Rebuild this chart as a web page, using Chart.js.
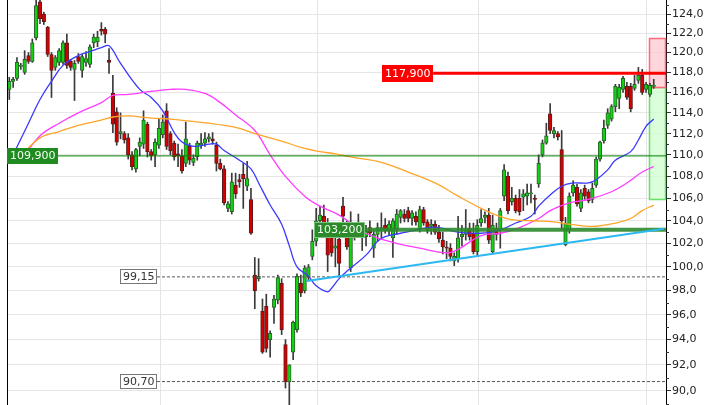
<!DOCTYPE html>
<html>
<head>
<meta charset="utf-8">
<script src="https://cdn.jsdelivr.net/npm/chart.js@4.4.0/dist/chart.umd.min.js"></script>
<style>
  html, body { margin: 0; padding: 0; background: #fff; }
  #wrap { width: 720px; height: 405px; position: relative; }
</style>
</head>
<body>
<div id="wrap"><canvas id="priceChart"></canvas></div>
<script>
// Daily candles, oldest first
const opens = [
  116.3, 117.1, 117.4, 118.6, 118.0, 119.7, 119.1, 121.5, 125.3, 124.0, 122.6, 119.8, 118.5, 119.0, 119.0, 121.0, 119.1, 118.3, 119.6, 118.2, 119.0, 118.8, 121.0, 121.1, 122.4, 122.4, 119.2,
  115.9, 114.1, 112.0, 112.0, 111.6, 110.0, 108.7, 110.8, 111.0, 112.9, 110.3, 110.0, 110.9, 111.9, 114.2, 112.0, 111.1, 110.1, 109.9, 109.2, 110.8, 109.3, 109.8, 110.9, 111.1, 111.5, 111.5, 110.9, 109.2, 108.7,
  105.1, 104.8, 107.2, 107.7, 108.2, 107.1, 105.9, 99.3, 99.0, 96.3, 96.7, 94.0, 96.6, 97.2, 98.6, 93.6, 90.7, 93.0, 94.8, 98.6, 98.0, 99.1, 100.9,
  102.2, 104.0, 104.4, 102.8, 102.8, 101.6, 102.4, 105.3, 103.2, 99.9, 102.9, 103.4, 102.9, 102.6, 103.4, 101.6, 102.8, 103.2, 103.6, 103.1,
  102.5, 103.3, 104.3, 104.6, 104.9, 104.2, 104.4, 103.3, 105.0, 103.9, 103.5, 103.7, 103.0, 102.3, 101.7, 101.6, 100.5, 100.7, 102.6, 102.8,
  103.3, 102.9, 101.3, 103.8, 104.3, 104.5, 101.3, 103.3, 103.2, 106.2,
  108.0, 105.7, 106.0, 106.0, 106.1, 106.2, 106.4, 106.0, 107.3, 110.0, 111.1, 113.9, 112.0, 112.0,
  110.5, 101.9, 103.2, 106.5, 107.0, 105.1, 106.9, 106.6, 105.9, 107.2, 109.6, 111.3, 112.8, 113.4, 114.6, 115.4, 116.3, 116.6, 116.6, 116.4, 117.2, 117.7, 116.3, 115.8, 116.6
];
const highs = [
  117.5, 117.5, 119.5, 118.9, 120.2, 120.0, 121.4, 125.5, 125.8, 124.2, 122.7, 120.0, 119.7, 120.4, 121.2, 121.9, 119.3, 119.2, 119.9, 119.8, 120.1, 120.8, 121.9, 122.2, 123.1, 122.6, 120.4,
  117.7, 114.5, 114.0, 112.2, 112.0, 110.3, 110.6, 111.6, 114.2, 113.1, 110.5, 111.5, 113.4, 113.8, 114.9, 112.2, 111.3, 111.0, 110.5, 113.1, 111.1, 110.0, 111.3, 112.0, 112.1, 112.0, 112.1, 111.2, 109.6, 109.0,
  105.7, 108.3, 108.3, 108.2, 109.2, 109.4, 106.9, 100.8, 100.7, 97.3, 97.7, 94.7, 97.6, 99.3, 99.0, 94.0, 92.0, 95.5, 99.4, 99.3, 100.1, 100.2, 103.2,
  105.1, 105.3, 105.4, 104.2, 103.3, 102.8, 103.0, 106.1, 104.0, 104.8, 103.7, 104.6, 103.5, 103.6, 104.0, 103.2, 103.8, 104.7, 104.2, 104.0,
  104.2, 105.0, 105.0, 105.0, 105.2, 104.9, 104.8, 105.3, 105.2, 104.1, 104.1, 104.0, 103.6, 103.0, 102.2, 102.0, 101.2, 104.4, 103.6, 105.0,
  103.8, 103.8, 104.1, 105.0, 104.8, 105.1, 104.5, 103.8, 105.1, 109.1,
  108.4, 107.0, 106.3, 106.8, 106.8, 107.3, 107.3, 106.3, 110.0, 111.4, 113.0, 114.9, 112.6, 112.2,
  112.3, 104.3, 106.5, 107.6, 107.3, 106.8, 107.2, 106.8, 107.4, 109.8, 111.3, 113.3, 114.4, 114.8, 116.8, 116.8, 117.6, 117.0, 116.9, 117.7, 118.5, 118.3, 117.0, 116.9, 117.3
];
const lows = [
  115.3, 116.5, 117.2, 118.3, 117.8, 118.9, 119.0, 121.3, 123.0, 122.9, 119.6, 115.5, 118.2, 118.7, 118.8, 118.4, 118.2, 115.2, 118.9, 117.5, 118.6, 118.5, 120.5, 120.6, 121.8, 121.0, 117.9,
  112.1, 110.9, 111.5, 111.1, 109.6, 108.6, 108.4, 109.9, 110.6, 109.8, 109.5, 108.9, 110.6, 111.6, 110.5, 110.0, 109.5, 108.9, 108.3, 108.9, 109.1, 109.0, 109.5, 110.6, 110.8, 111.2, 111.0, 108.5, 108.6, 105.4,
  104.8, 104.6, 106.0, 107.0, 105.1, 106.7, 102.8, 96.5, 98.8, 92.9, 93.0, 92.6, 95.3, 96.9, 94.4, 90.2, 88.5, 92.4, 94.6, 97.5, 97.8, 98.8, 100.6,
  101.8, 103.5, 103.2, 99.6, 100.9, 100.0, 99.2, 103.3, 101.5, 99.6, 102.3, 102.6, 101.4, 101.8, 102.6, 100.8, 102.2, 102.5, 102.9, 102.7,
  100.8, 102.8, 103.8, 103.9, 103.9, 103.6, 103.6, 103.0, 103.6, 102.9, 102.8, 102.8, 102.1, 101.1, 100.7, 100.5, 100.1, 100.4, 101.8, 102.3,
  102.3, 101.1, 101.0, 103.5, 103.8, 102.0, 101.2, 102.3, 101.6, 105.8,
  104.6, 105.4, 104.7, 104.5, 104.9, 105.4, 105.6, 104.6, 107.0, 109.8, 111.0, 112.0, 111.6, 111.4,
  103.2, 101.8, 102.9, 106.2, 105.3, 104.8, 105.9, 105.6, 105.6, 107.0, 109.4, 111.1, 112.5, 113.2, 114.1, 114.4, 116.0, 115.3, 114.1, 116.2, 116.9, 115.8, 116.0, 115.6, 116.4
];
const closes = [
  117.1, 117.3, 119.0, 118.7, 119.3, 119.1, 121.0, 124.9, 123.5, 123.2, 119.8, 118.2, 119.5, 120.2, 121.0, 118.7, 118.5, 118.9, 119.1, 119.6, 119.4, 120.6, 121.6, 121.6, 122.2, 121.9, 119.0,
  112.9, 111.2, 112.2, 111.4, 110.0, 108.9, 110.5, 111.2, 113.3, 110.3, 109.9, 111.2, 112.5, 113.1, 110.8, 110.4, 109.8, 109.9, 108.5, 111.5, 109.5, 109.7, 111.1, 111.1, 111.5, 111.7, 111.3, 109.2, 108.7, 105.6,
  105.5, 107.5, 106.4, 107.5, 107.8, 107.8, 102.9, 98.0, 99.2, 93.0, 93.3, 94.5, 97.3, 99.1, 94.8, 90.7, 92.0, 95.4, 99.2, 97.8, 99.9, 100.0, 102.2,
  104.0, 104.5, 103.6, 101.0, 101.2, 101.8, 100.3, 104.4, 101.7, 103.0, 103.3, 102.9, 102.6, 103.1, 102.9, 102.8, 103.4, 103.4, 103.1, 103.7,
  104.0, 104.6, 104.9, 104.2, 104.2, 104.7, 103.9, 105.0, 103.8, 103.1, 103.7, 103.0, 102.4, 101.7, 101.6, 100.9, 100.9, 102.5, 102.8, 103.2,
  102.6, 101.3, 103.6, 104.2, 104.5, 102.3, 103.6, 102.8, 104.9, 108.6,
  104.9, 106.0, 104.9, 104.8, 106.4, 106.5, 106.5, 105.9, 109.2, 111.1, 111.8, 112.3, 112.3, 111.7,
  104.0, 103.8, 106.2, 107.2, 105.5, 106.5, 106.2, 105.8, 106.9, 109.6, 111.2, 112.5, 114.0, 114.6, 116.6, 116.5, 117.4, 115.5, 114.4, 116.8, 117.7, 116.0, 116.8, 116.7, 116.7
];

// Moving averages: [session, value]
const maFast = [
  [1,110.0],[5,113.0],[8,115.3],[11,117.1],[14,118.7],[18,119.7],[21,120.1],[24,120.5],[26,120.7],[29,118.9],
  [34,116.3],[37,115.5],[40,114.2],[43,112.1],[45,111.2],[48,110.8],[52,111.0],[54,111.0],[56,110.4],[60,109.5],
  [63,108.7],[65,107.4],[68,105.4],[71,103.7],[73,101.8],[75,100.0],[78,99.2],[80,98.4],[83,97.9],[84,98.2],
  [86,99.0],[89,99.9],[93,101.0],[96,102.2],[98,102.6],[102,102.9],[105,103.1],[109,103.4],[112,103.4],[117,103.0],
  [123,102.9],[128,103.2],[132,103.8],[136,104.4],[138,105.3],[141,106.3],[144,107.1],[147,107.4],[151,107.4],[153,107.7],
  [156,108.6],[158,109.5],[162,110.3],[164,111.4],[166,112.7],[168,113.4]
];
const maMid = [
  [4,110.0],[8,111.8],[13,113.0],[18,114.0],[24,115.0],[27,115.7],[31,115.8],[37,116.1],[42,116.3],[46,116.3],
  [51,115.9],[55,115.0],[59,113.8],[64,112.3],[68,110.0],[72,108.0],[77,106.2],[81,105.3],[86,104.5],[93,102.9],
  [100,102.1],[107,101.6],[114,101.2],[117,101.5],[123,102.7],[128,102.9],[133,103.4],[138,104.2],[141,104.9],[146,105.6],
  [151,105.9],[157,106.6],[161,107.4],[165,108.4],[168,108.9]
];
const maSlow = [
  [3,109.9],[8,111.6],[13,112.2],[18,112.8],[24,113.3],[27,113.6],[31,113.7],[37,113.5],[42,113.4],[47,113.2],
  [52,113.0],[56,112.8],[60,112.5],[65,111.9],[71,111.3],[76,110.7],[81,110.3],[85,110.1],[89,109.8],[97,109.3],
  [104,108.4],[111,107.4],[117,106.2],[123,105.1],[127,104.5],[131,104.1],[137,104.0],[142,103.9],[146,103.7],[152,103.5],
  [158,103.8],[162,104.2],[165,104.9],[168,105.4]
];

// Drawn levels: [first session, price]
const pivot = [-0.6, 109.9];
const resistance = [110.5, 117.9];
const support = [92.8, 103.2];
const lowMarks = [[38.5, 99.15], [38.5, 90.70]];
const trendStart = [77.5, 98.8];
const trendEnd = [170.7, 103.3];
const targetSpan = [166.8, 171.1];
const targetUp = [116.5, 121.5];
const targetDown = [105.9, 116.5];

const majorTicks = [90, 92, 94, 96, 98, 100, 102, 104, 106, 108, 110, 112, 114, 116, 118, 120, 122, 124];
const minorTicks = [89, 91, 93, 95, 97, 99, 101, 103, 105, 107, 109, 111, 113, 115, 117, 119, 121, 123, 125];
const monthLines = [39.3, 80.2, 122.2, 166.0];

const xMin = -0.6, xMax = 171.2;

const rising = i => closes[i] >= opens[i];
const bodies = opens.map((o, i) => ({ x: i, y: [o, closes[i]] }));
const wicks = lows.map((l, i) => ({ x: i, y: [l, highs[i]] }));
const pts = arr => arr.map(p => ({ x: p[0], y: p[1] }));
const level = (p, width, color, dash) => ({
  type: 'line',
  data: [{ x: p[0], y: p[1] }, { x: xMax, y: p[1] }],
  borderColor: color, borderWidth: width, borderDash: dash || [],
  pointRadius: 0, fill: false, order: 2
});
const maLine = (arr, color) => ({
  type: 'line', data: pts(arr), borderColor: color, borderWidth: 1.3,
  pointRadius: 0, tension: 0.4, fill: false, order: 3
});

const comma = (v, d) => v.toFixed(d).replace('.', ',');

const overlay = {
  id: 'overlay',
  beforeDatasetsDraw(chart) {
    const { ctx, chartArea: a, scales: { x, y } } = chart;
    ctx.save();
    ctx.lineWidth = 1;
    ctx.strokeStyle = '#e4e4e4';
    monthLines.forEach(m => {
      const px = Math.round(x.getPixelForValue(m)) + 0.5;
      ctx.beginPath(); ctx.moveTo(px, a.top); ctx.lineTo(px, a.bottom); ctx.stroke();
    });
    // target boxes
    const bx0 = x.getPixelForValue(targetSpan[0]), bx1 = x.getPixelForValue(targetSpan[1]);
    const box = (range, fill, stroke) => {
      const t = y.getPixelForValue(range[1]), b = y.getPixelForValue(range[0]);
      ctx.fillStyle = fill;
      ctx.fillRect(bx0, t, bx1 - bx0, b - t);
      ctx.strokeStyle = stroke;
      ctx.lineWidth = 1.5;
      ctx.strokeRect(Math.round(bx0) + 0.5, Math.round(t) + 0.5, Math.round(bx1 - bx0), Math.round(b - t));
    };
    box(targetDown, 'rgba(205,255,205,0.75)', '#66e066');
    box(targetUp, 'rgba(255,200,208,0.75)', '#ff6a78');
    ctx.restore();
  },
  afterDatasetsDraw(chart) {
    const { ctx, chartArea: a, scales: { x, y } } = chart;
    ctx.save();
    ctx.lineWidth = 1;
    ctx.strokeStyle = '#000';
    ctx.beginPath(); ctx.moveTo(a.left + 0.5, a.top); ctx.lineTo(a.left + 0.5, a.bottom); ctx.stroke();
    ctx.strokeStyle = '#333';
    minorTicks.forEach(v => {
      const py = Math.round(y.getPixelForValue(v)) + 0.5;
      ctx.beginPath(); ctx.moveTo(a.right, py); ctx.lineTo(a.right + 3, py); ctx.stroke();
    });

    ctx.font = '11px "DejaVu Sans"';
    ctx.textBaseline = 'middle';
    ctx.textAlign = 'left';
    const tag = (text, anchor, alignRight, price, fill, stroke, color, h) => {
      const w = Math.ceil(ctx.measureText(text).width) + 5;
      const left = Math.round(alignRight ? anchor - w : anchor);
      const top = Math.round(y.getPixelForValue(price) - h / 2);
      ctx.fillStyle = fill;
      ctx.fillRect(left, top, w, h);
      if (stroke) {
        ctx.strokeStyle = stroke;
        ctx.strokeRect(left + 0.5, top + 0.5, w - 1, h - 1);
      }
      ctx.fillStyle = color;
      ctx.fillText(text, left + 3, top + h / 2 + 0.5);
    };
    tag(comma(pivot[1], 3), a.left, false, pivot[1], '#1f8a1f', null, '#f2fff2', 16);
    tag(comma(resistance[1], 3), x.getPixelForValue(resistance[0]), true, resistance[1], '#ff0000', null, '#fff', 17);
    tag(comma(support[1], 3), x.getPixelForValue(support[0]), true, support[1], '#2c8a2c', '#7cc47c', '#f2fff2', 16);
    lowMarks.forEach(m => tag(comma(m[1], 2), x.getPixelForValue(m[0]), true, m[1], '#fff', '#777', '#333', 15));
    ctx.restore();
  }
};

new Chart(document.getElementById('priceChart'), {
  type: 'bar',
  data: {
    datasets: [
      maLine(maSlow, '#ffa428'),
      maLine(maMid, '#ff3cff'),
      maLine(maFast, '#3a3aff'),
      level(pivot, 1, '#008000'),
      level(resistance, 3, '#ff0000'),
      level(support, 4, 'rgba(46,138,46,0.9)'),
      level(lowMarks[0], 1, '#555', [3, 2]),
      level(lowMarks[1], 1, '#555', [3, 2]),
      {
        type: 'line', data: pts([trendStart, trendEnd]), borderColor: '#2cb8f0',
        borderWidth: 2, pointRadius: 0, fill: false, order: 1
      },
      {
        data: wicks, backgroundColor: '#3a3a3a', borderWidth: 0,
        categoryPercentage: 1, barPercentage: 1, maxBarThickness: 1,
        grouped: false, order: 6
      },
      {
        data: bodies,
        backgroundColor: c => rising(c.dataIndex) ? '#12d212' : '#d40000',
        borderColor: c => rising(c.dataIndex) ? '#2e5e2e' : '#5e1a1a',
        borderWidth: 1, borderSkipped: false, minBarLength: 1,
        categoryPercentage: 1, barPercentage: 1, maxBarThickness: 3.6,
        grouped: false, order: 5
      }
    ]
  },
  options: {
    responsive: true,
    maintainAspectRatio: false,
    animation: false,
    events: [],
    layout: { padding: { left: 7, right: 0, top: 0, bottom: 0 } },
    plugins: { legend: { display: false }, tooltip: { enabled: false } },
    scales: {
      x: { type: 'linear', display: false, offset: false, min: xMin, max: xMax },
      y: {
        type: 'logarithmic',
        position: 'right',
        min: 88.91,
        max: 125.49,
        bounds: 'data',
        afterBuildTicks: s => { s.ticks = majorTicks.map(v => ({ value: v })); },
        afterFit: s => { s.width = 54; s.paddingTop = 0; s.paddingBottom = 0; },
        border: { display: true, color: '#000', width: 1 },
        grid: { color: '#e6e6e6', tickColor: '#333', tickLength: 5 },
        ticks: {
          autoSkip: false,
          padding: 1,
          color: '#222',
          font: { family: 'DejaVu Sans', size: 11 },
          callback: v => comma(v, 1)
        }
      }
    }
  },
  plugins: [overlay]
});
</script>
</body>
</html>
